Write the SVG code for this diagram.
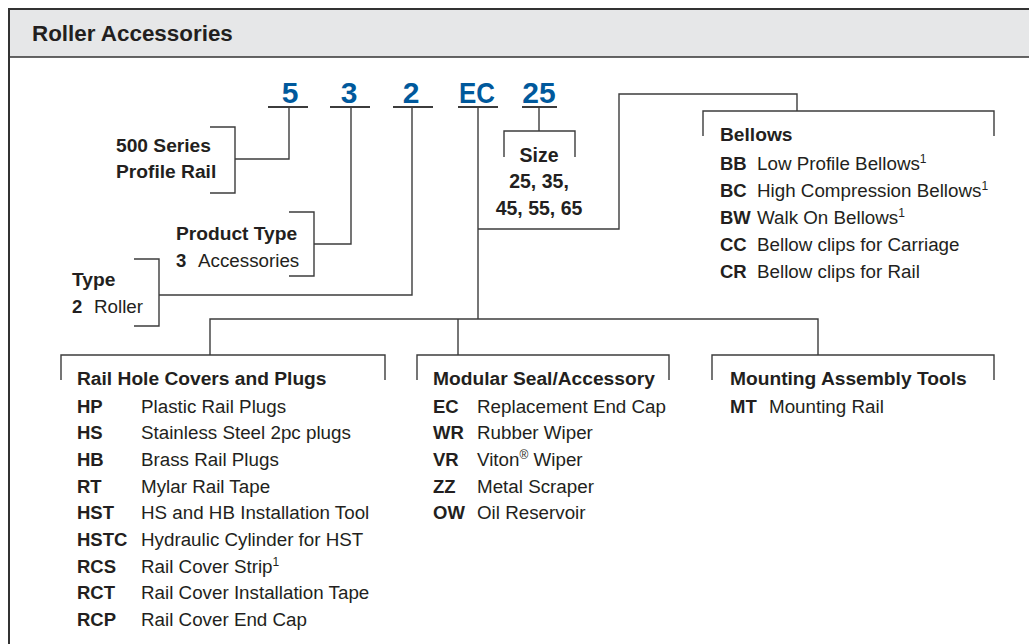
<svg xmlns="http://www.w3.org/2000/svg" width="1029" height="644" viewBox="0 0 1029 644">
<style>
text{font-family:"Liberation Sans",Arial,sans-serif;fill:#231f20}
.t{font-size:22.4px;font-weight:bold}
.code{font-size:30px;font-weight:bold;fill:#00599c;text-anchor:middle}
.h{font-size:19.2px;font-weight:bold}
.r{font-size:18.8px}
.k{font-size:18.5px;font-weight:bold}
.sz{font-size:19.5px;font-weight:bold;text-anchor:middle}
.sup{font-size:12px}
.ln{fill:none;stroke:#3c3c3c;stroke-width:1.4}
.ul{fill:none;stroke:#3c3c3c;stroke-width:2}
</style>
<rect x="0" y="0" width="1029" height="644" fill="#ffffff"/>
<g id="frame">
<rect x="9" y="9" width="1022" height="48" fill="#e6e7e8"/>
<line x1="9" y1="9" x2="1029" y2="9" stroke="#333" stroke-width="2"/>
<line x1="9" y1="57" x2="1029" y2="57" stroke="#333" stroke-width="1.5"/>
<line x1="9" y1="8" x2="9" y2="644" stroke="#333" stroke-width="2"/>
</g>
<g id="title"><text class="t" x="32" y="41">Roller Accessories</text></g>

<g id="code-5"><text class="code" x="290" y="103">5</text><line class="ul" x1="268" y1="107" x2="308" y2="107"/></g>
<g id="code-3"><text class="code" x="349" y="103">3</text><line class="ul" x1="330" y1="107" x2="370" y2="107"/></g>
<g id="code-2"><text class="code" x="411" y="103">2</text><line class="ul" x1="393" y1="107" x2="433" y2="107"/></g>
<g id="code-EC"><text class="code" x="477" y="103" textLength="36" lengthAdjust="spacingAndGlyphs">EC</text><line class="ul" x1="458" y1="107" x2="498" y2="107"/></g>
<g id="code-25"><text class="code" x="539" y="103">25</text><line class="ul" x1="522" y1="107" x2="557" y2="107"/></g>

<g id="label-series">
<path class="ln" d="M210 127H235V193H210"/>
<text class="h" x="116" y="152">500 Series</text>
<text class="h" x="116" y="178">Profile Rail</text>
</g>
<g id="label-product">
<path class="ln" d="M289 212H314V276H289"/>
<text class="h" x="176" y="240">Product Type</text>
<text x="176" y="267"><tspan class="k">3</tspan><tspan class="r" x="198">Accessories</tspan></text>
</g>
<g id="label-type">
<path class="ln" d="M134 259H159V326H134"/>
<text class="h" x="72" y="286">Type</text>
<text x="72" y="313"><tspan class="k">2</tspan><tspan class="r" x="94">Roller</tspan></text>
</g>
<g id="label-size">
<path class="ln" d="M504 157V131H575V157"/>
<text class="sz" x="539" y="162">Size</text>
<text class="sz" x="539" y="188">25, 35,</text>
<text class="sz" x="539" y="215">45, 55, 65</text>
</g>

<g id="section-bellows">
<path class="ln" d="M703 136V111H994V136"/>
<text class="h" x="720" y="141">Bellows</text>
<text x="720" y="170"><tspan class="k">BB</tspan><tspan class="r" x="757">Low Profile Bellows</tspan><tspan class="sup" dy="-7">1</tspan></text>
<text x="720" y="197"><tspan class="k">BC</tspan><tspan class="r" x="757">High Compression Bellows</tspan><tspan class="sup" dy="-7">1</tspan></text>
<text x="720" y="224"><tspan class="k">BW</tspan><tspan class="r" x="757">Walk On Bellows</tspan><tspan class="sup" dy="-7">1</tspan></text>
<text x="720" y="251"><tspan class="k">CC</tspan><tspan class="r" x="757">Bellow clips for Carriage</tspan></text>
<text x="720" y="278"><tspan class="k">CR</tspan><tspan class="r" x="757">Bellow clips for Rail</tspan></text>
</g>

<g id="section-railhole">
<path class="ln" d="M61 380V355H385V380"/>
<text class="h" x="77" y="385">Rail Hole Covers and Plugs</text>
<text x="77" y="412.7"><tspan class="k">HP</tspan><tspan class="r" x="141">Plastic Rail Plugs</tspan></text>
<text x="77" y="439.3"><tspan class="k">HS</tspan><tspan class="r" x="141">Stainless Steel 2pc plugs</tspan></text>
<text x="77" y="466"><tspan class="k">HB</tspan><tspan class="r" x="141">Brass Rail Plugs</tspan></text>
<text x="77" y="492.7"><tspan class="k">RT</tspan><tspan class="r" x="141">Mylar Rail Tape</tspan></text>
<text x="77" y="519.3"><tspan class="k">HST</tspan><tspan class="r" x="141">HS and HB Installation Tool</tspan></text>
<text x="77" y="546"><tspan class="k">HSTC</tspan><tspan class="r" x="141">Hydraulic Cylinder for HST</tspan></text>
<text x="77" y="572.7"><tspan class="k">RCS</tspan><tspan class="r" x="141">Rail Cover Strip</tspan><tspan class="sup" dy="-7">1</tspan></text>
<text x="77" y="599.3"><tspan class="k">RCT</tspan><tspan class="r" x="141">Rail Cover Installation Tape</tspan></text>
<text x="77" y="626"><tspan class="k">RCP</tspan><tspan class="r" x="141">Rail Cover End Cap</tspan></text>
</g>

<g id="section-modular">
<path class="ln" d="M417 380V355H669V380"/>
<text class="h" x="433" y="385">Modular Seal/Accessory</text>
<text x="433" y="412.7"><tspan class="k">EC</tspan><tspan class="r" x="477">Replacement End Cap</tspan></text>
<text x="433" y="439.3"><tspan class="k">WR</tspan><tspan class="r" x="477">Rubber Wiper</tspan></text>
<text x="433" y="466"><tspan class="k">VR</tspan><tspan class="r" x="477">Viton</tspan><tspan class="sup" dy="-7">®</tspan><tspan class="r" dy="7"> Wiper</tspan></text>
<text x="433" y="492.7"><tspan class="k">ZZ</tspan><tspan class="r" x="477">Metal Scraper</tspan></text>
<text x="433" y="519.3"><tspan class="k">OW</tspan><tspan class="r" x="477">Oil Reservoir</tspan></text>
</g>

<g id="section-mounting">
<path class="ln" d="M712 380V355H994V380"/>
<text class="h" x="730" y="385">Mounting Assembly Tools</text>
<text x="730" y="412.7"><tspan class="k">MT</tspan><tspan class="r" x="769">Mounting Rail</tspan></text>
</g>

<g id="connectors" class="ln">
<path class="ln" d="M289 107V159H235"/>
<path class="ln" d="M351 107V244H314"/>
<path class="ln" d="M412 107V295H159"/>
<path class="ln" d="M539 107V131"/>
<path class="ln" d="M478 107V319"/>
<path class="ln" d="M478 229H619V94H797V111"/>
<path class="ln" d="M210 355V319H818V355"/>
<path class="ln" d="M458 319V355"/>
</g>
</svg>
